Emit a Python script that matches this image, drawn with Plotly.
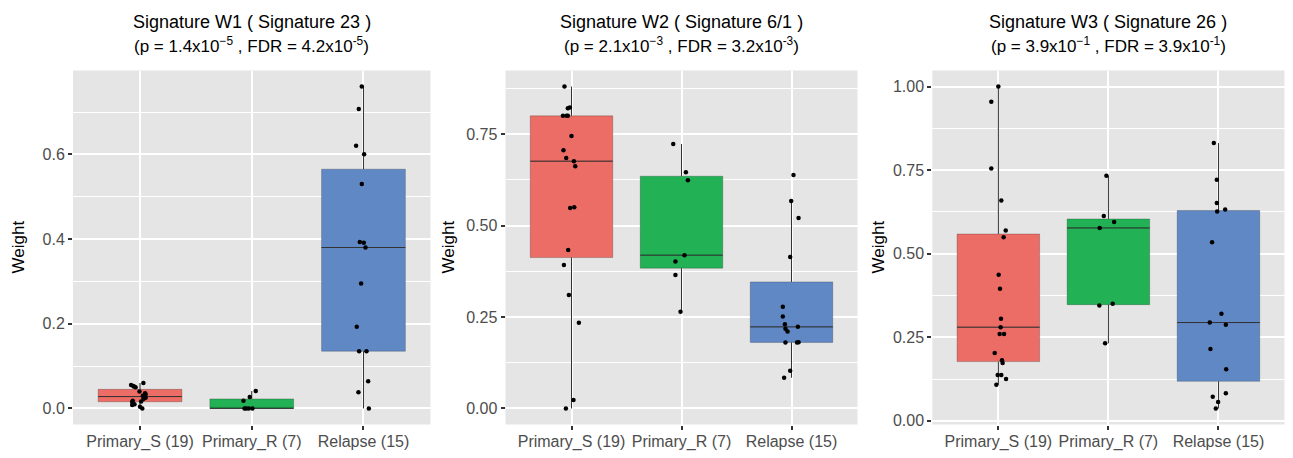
import numpy as np
import plotly.graph_objects as go

# ---------------- data ----------------
categories = ["Primary_S (19)", "Primary_R (7)", "Relapse (15)"]
box_colors = ["#EC6D66", "#22B255", "#6088C5"]

titles_line1 = ["Signature W1 ( Signature 23 )",
                "Signature W2 ( Signature 6/1 )",
                "Signature W3 ( Signature 26 )"]
titles_line2 = ["(p = 1.4x10<sup>\u22125</sup> , FDR = 4.2x10<sup>-5</sup>)",
                "(p = 2.1x10<sup>\u22123</sup> , FDR = 3.2x10<sup>-3</sup>)",
                "(p = 3.9x10<sup>\u22121</sup> , FDR = 3.9x10<sup>-1</sup>)"]

# Signature W1
w1_primary_s = [0.000, 0.004, 0.008, 0.010, 0.015, 0.0165, 0.018, 0.022, 0.025, 0.028,
                0.030, 0.033, 0.036, 0.040, 0.050, 0.052, 0.053, 0.055, 0.060]
w1_primary_s_jitter = [0.02, 0.0, -0.07, -0.05, -0.07, 0.01, -0.065, 0.03, 0.05, 0.04,
                       0.025, 0.05, 0.045, -0.005, -0.04, -0.055, -0.06, -0.08, 0.03]
w1_primary_r = [0.0, 0.0, 0.0, 0.0, 0.018, 0.027, 0.041]
w1_primary_r_jitter = [-0.065, -0.05, -0.027, 0.006, -0.074, -0.018, 0.036]
w1_relapse = [0.760, 0.707, 0.620, 0.600, 0.530, 0.393, 0.391, 0.380, 0.295, 0.193,
              0.135, 0.135, 0.064, 0.038, 0.000]
w1_relapse_jitter = [-0.015, -0.042, -0.066, 0.006, -0.015, -0.033, 0.003, 0.018, -0.021, -0.06,
                     -0.039, 0.027, 0.042, -0.045, 0.048]

# Signature W2
w2_primary_s = [0.880, 0.823, 0.821, 0.800, 0.800, 0.800, 0.745, 0.706, 0.685, 0.676,
                0.662, 0.550, 0.548, 0.433, 0.392, 0.310, 0.234, 0.023, 0.000]
w2_primary_s_jitter = [-0.064, -0.015, -0.033, -0.078, -0.045, -0.033, 0.0, -0.073, -0.048, 0.022,
                       0.034, 0.025, -0.012, -0.03, -0.069, -0.024, 0.067, 0.018, -0.051]
w2_primary_r = [0.723, 0.646, 0.624, 0.419, 0.402, 0.365, 0.264]
w2_primary_r_jitter = [-0.075, 0.04, 0.058, 0.027, -0.055, -0.055, -0.009]
w2_relapse = [0.638, 0.567, 0.521, 0.414, 0.278, 0.251, 0.230, 0.223, 0.218, 0.210,
              0.181, 0.180, 0.180, 0.103, 0.084]
w2_relapse_jitter = [0.018, -0.003, 0.064, -0.012, -0.079, -0.079, -0.06, 0.058, -0.055, -0.036,
                     0.064, -0.055, 0.05, -0.012, -0.067]

# Signature W3
w3_primary_s = [1.000, 0.955, 0.755, 0.659, 0.569, 0.549, 0.437, 0.395, 0.305, 0.280,
                0.260, 0.260, 0.203, 0.181, 0.173, 0.137, 0.137, 0.125, 0.108]
w3_primary_s_jitter = [0.0, -0.064, -0.064, 0.027, 0.067, 0.048, 0.003, 0.015, 0.024, 0.021,
                       0.012, 0.052, -0.033, 0.033, 0.039, -0.006, 0.027, 0.07, -0.018]
w3_primary_r = [0.733, 0.613, 0.595, 0.577, 0.350, 0.345, 0.232]
w3_primary_r_jitter = [-0.018, -0.042, 0.052, -0.079, 0.039, -0.082, -0.03]
w3_relapse = [0.831, 0.721, 0.652, 0.626, 0.632, 0.534, 0.320, 0.294, 0.287, 0.215,
              0.154, 0.082, 0.072, 0.056, 0.037]
w3_relapse_jitter = [-0.042, -0.015, -0.015, -0.012, 0.061, -0.058, 0.027, -0.079, 0.067, -0.073,
                     0.07, 0.067, -0.052, -0.003, -0.024]

panels = [
    [(w1_primary_s, w1_primary_s_jitter), (w1_primary_r, w1_primary_r_jitter), (w1_relapse, w1_relapse_jitter)],
    [(w2_primary_s, w2_primary_s_jitter), (w2_primary_r, w2_primary_r_jitter), (w2_relapse, w2_relapse_jitter)],
    [(w3_primary_s, w3_primary_s_jitter), (w3_primary_r, w3_primary_r_jitter), (w3_relapse, w3_relapse_jitter)],
]
y_dticks = [0.2, 0.25, 0.25]
y_formats = [".1f", ".2f", ".2f"]

# ---------------- layout geometry ----------------
W, H = 1293, 458
x_domains_px = [(73, 430.5), (505.5, 857.5), (932.3, 1284.5)]
y_top_px, y_bot_px = 70.5, 424.5
y_domain = [1 - y_bot_px / H, 1 - y_top_px / H]
ylabel_x_px = [18, 448, 878]
FONT = "Liberation Sans, Arial, sans-serif"
DARK = "#333333"
box_width = 0.75

fig = go.Figure()
layout = dict(
    width=W, height=H, autosize=False,
    margin=dict(l=0, r=0, t=0, b=0),
    paper_bgcolor="white", plot_bgcolor="#E5E5E5",
    showlegend=False, font=dict(family=FONT),
    annotations=[],
)

for p, groups in enumerate(panels):
    sfx = "" if p == 0 else str(p + 1)
    xa, ya = "x" + sfx, "y" + sfx
    allv = np.concatenate([np.asarray(v, float) for v, _ in groups])
    lo_all, hi_all = allv.min(), allv.max()
    pad = 0.05 * (hi_all - lo_all)

    for i, (vals, jit) in enumerate(groups):
        v = np.asarray(vals, float)
        q1, med, q3 = np.percentile(v, [25, 50, 75])
        iqr = q3 - q1
        upper = v[v <= q3 + 1.5 * iqr].max()
        lower = v[v >= q1 - 1.5 * iqr].min()
        fig.add_trace(go.Box(
            x=[i], q1=[q1], median=[med], q3=[q3], lowerfence=[lower], upperfence=[upper],
            fillcolor=box_colors[i], line=dict(color="rgba(0,0,0,0.22)", width=1),
            width=box_width, whiskerwidth=0, boxpoints=False,
            xaxis=xa, yaxis=ya, hoverinfo="skip", showlegend=False,
        ))
        # whiskers and median in dark grey
        fig.add_trace(go.Scatter(
            x=[i, i, None, i, i], y=[q3, upper, None, q1, lower], mode="lines",
            line=dict(color=DARK, width=1), xaxis=xa, yaxis=ya,
            hoverinfo="skip", showlegend=False,
        ))
        fig.add_trace(go.Scatter(
            x=[i - box_width / 2, i + box_width / 2], y=[med, med], mode="lines",
            line=dict(color=DARK, width=1), xaxis=xa, yaxis=ya,
            hoverinfo="skip", showlegend=False,
        ))
    for i, (vals, jit) in enumerate(groups):
        fig.add_trace(go.Scatter(
            x=[i + j for j in jit], y=vals, mode="markers",
            marker=dict(color="black", size=4.5),
            xaxis=xa, yaxis=ya, showlegend=False,
        ))

    x0, x1 = x_domains_px[p]
    layout["xaxis" + sfx] = dict(
        domain=[x0 / W, x1 / W], anchor=ya, range=[-0.6, 2.6],
        tickmode="array", tickvals=[0, 1, 2], ticktext=categories,
        showgrid=True, gridcolor="white", gridwidth=2, zeroline=False,
        ticks="outside", ticklen=4, tickwidth=1.5, tickcolor=DARK,
        tickfont=dict(size=16, color="#4D4D4D", family=FONT),
        tickangle=0, automargin=False, ticklabelstandoff=-2,
        showline=False, fixedrange=True,
    )
    layout["yaxis" + sfx] = dict(
        domain=y_domain, anchor=xa, range=[lo_all - pad, hi_all + pad],
        tickmode="linear", tick0=0, dtick=y_dticks[p], tickformat=y_formats[p],
        showgrid=True, gridcolor="white", gridwidth=2, zeroline=False,
        minor=dict(tickmode="linear", tick0=y_dticks[p] / 2, dtick=y_dticks[p],
                   showgrid=True, gridcolor="white", gridwidth=1, ticks=""),
        ticks="outside", ticklen=4, tickwidth=1.5, tickcolor=DARK,
        tickfont=dict(size=16, color="#4D4D4D", family=FONT),
        automargin=False,
        showline=False, fixedrange=True,
    )
    cx = (x0 + x1) / 2 / W
    layout["annotations"] += [
        dict(text=titles_line1[p], x=cx, y=1 - 22 / H, xref="paper", yref="paper",
             xanchor="center", yanchor="middle", showarrow=False,
             font=dict(size=18, color="black", family=FONT)),
        dict(text=titles_line2[p], x=cx, y=1 - 45 / H, xref="paper", yref="paper",
             xanchor="center", yanchor="middle", showarrow=False,
             font=dict(size=17, color="black", family=FONT)),
        dict(text="Weight", x=ylabel_x_px[p] / W, y=(y_domain[0] + y_domain[1]) / 2,
             xref="paper", yref="paper", xanchor="center", yanchor="middle",
             textangle=-90, showarrow=False,
             font=dict(size=17, color="black", family=FONT)),
    ]

fig.update_layout(**layout)
fig.write_html("out.html", config={"displayModeBar": False},
               post_script="document.body.style.margin='0';document.body.style.padding='0';")
